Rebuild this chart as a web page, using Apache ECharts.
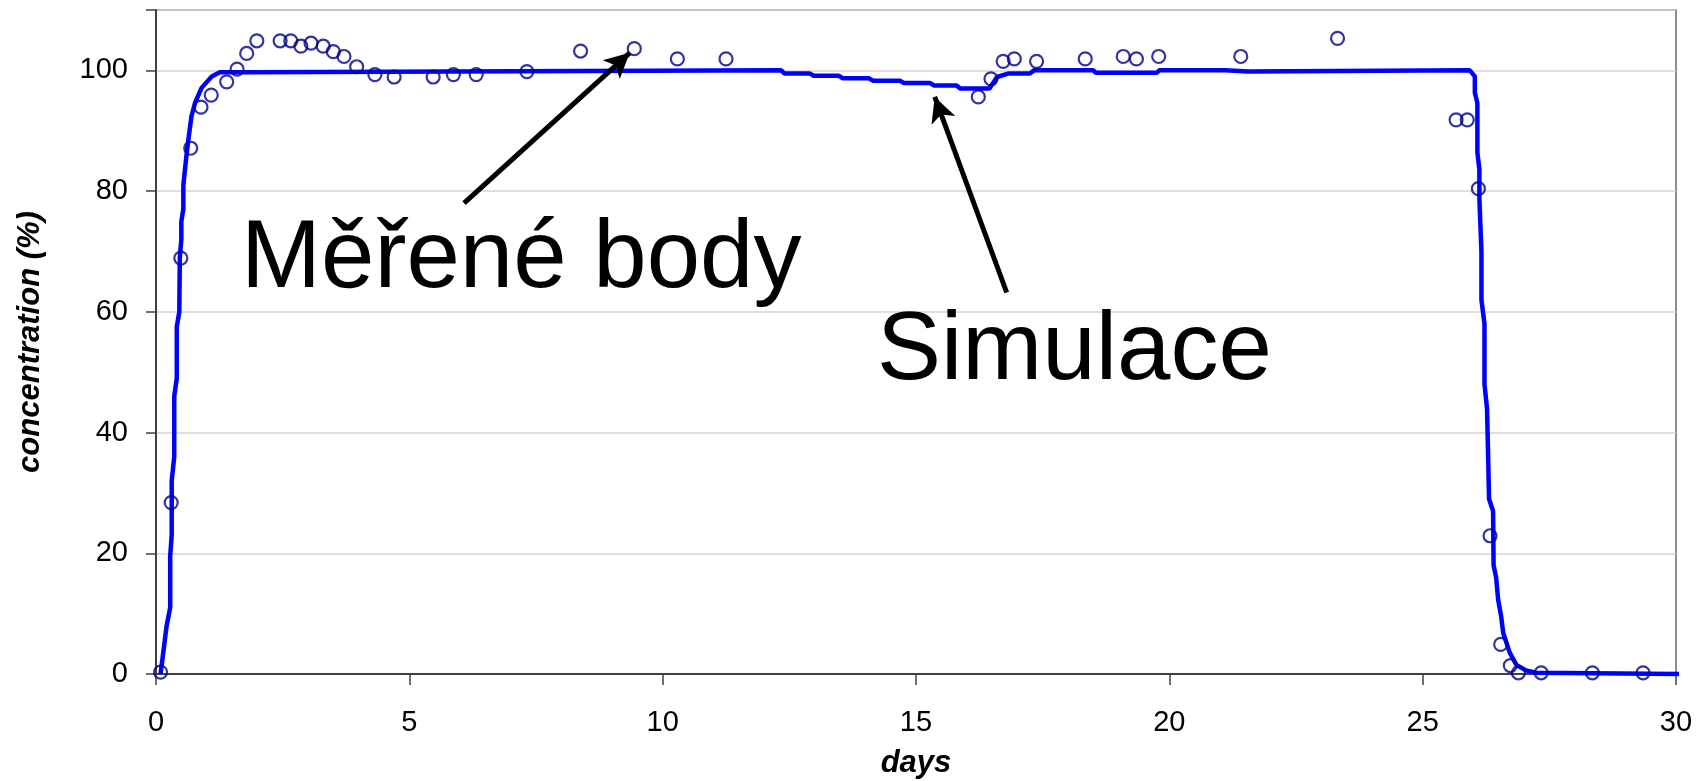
<!DOCTYPE html>
<html>
<head>
<meta charset="utf-8">
<script src="https://cdn.jsdelivr.net/npm/echarts@6/dist/echarts.min.js"></script>
<style>
html,body{margin:0;padding:0;background:#fff;}
#c{width:1700px;height:781px;}
</style>
</head>
<body>
<div id="c"></div>
<script>
// Simulation curve (days, concentration %)
const simX = [0.09,0.15,0.21,0.28,0.28,0.31,0.31,0.36,0.36,0.41,0.41,0.46,0.47,0.50,0.50,0.54,0.54,0.60,0.64,0.70,0.77,0.90,1.10,1.26,1.92,1.95,
  12.34,12.40,12.90,12.98,13.48,13.55,14.07,14.15,14.68,14.76,15.28,15.35,15.80,15.87,16.45,16.60,16.83,17.25,17.33,
  18.50,18.55,19.75,19.80,21.10,21.12,21.55,21.57,25.93,26.03,26.03,26.08,26.08,26.12,26.12,26.16,26.16,26.22,26.22,26.27,26.29,26.31,26.39,26.40,26.45,26.49,26.55,26.59,26.72,26.85,27.04,27.24,30.18];
const simY = [0,4,8,11,19.5,23,32,36,46,49,57.5,60,69,72,75,77,81,85.8,88.6,92.4,94.6,97.1,99.0,99.7,99.7,100,
  100,99.5,99.5,99.1,99.1,98.7,98.7,98.3,98.3,97.9,97.9,97.5,97.5,97.0,97.0,98.9,99.5,99.5,100,
  100,99.6,99.6,100,100,99.8,99.8,100,100,99,96.3,94.6,86.4,83.6,78.6,70,62,58,48,44,37,29,27,18,16,12.3,9.5,6.8,3.5,1.5,0.6,0.2,0];

// Measured points
const obsX = [0.09,0.30,0.49,0.685,0.888,1.09,1.395,1.60,1.79,1.99,2.45,2.66,2.86,3.06,3.30,3.50,3.71,3.96,4.32,4.70,5.47,5.87,6.32,7.32,8.38,9.44,10.29,11.25,
  16.23,16.48,16.72,16.94,17.38,18.34,19.09,19.35,19.79,21.41,23.32,25.66,25.88,26.10,26.33,26.54,26.73,26.89,27.34,28.35,29.35];
const obsY = [0.3,28.4,68.9,87.1,93.9,95.9,98.1,100.2,102.8,104.9,104.9,104.9,104.0,104.5,104.0,103.1,102.3,100.6,99.3,98.9,98.9,99.3,99.3,99.8,103.2,103.6,101.9,101.9,
  95.6,98.6,101.5,101.9,101.5,101.9,102.3,101.9,102.3,102.3,105.3,91.8,91.8,80.4,22.9,4.9,1.4,0.2,0.2,0.2,0.2];

// Annotations (data coordinates)
const labelTexts = ['Měřené body', 'Simulace'];
const labelAt = [[1.68, 68.5], [14.23, 53.3]];
const arrowFrom = [[6.08, 78.0], [16.79, 63.2]];
const arrowTo = [[9.35, 102.9], [15.37, 95.6]];

const xTicks = {min: 0, max: 30, interval: 5};
const yTicks = {min: 0, max: 110, interval: 20};

const FONT = '"Liberation Sans", Arial, sans-serif';
const chart = echarts.init(document.getElementById('c'), null, {renderer: 'canvas'});

const simData = simX.map((x, i) => [x, simY[i]]);
const obsData = obsX.map((x, i) => [x, obsY[i]]);

chart.setOption({
  animation: false,
  backgroundColor: '#ffffff',
  grid: {left: 156, right: 24, top: 10, bottom: 107, show: true, borderColor: '#8c8c8c', borderWidth: 2,
    backgroundColor: 'transparent', containLabel: false, outerBoundsMode: 'none'},
  xAxis: {
    type: 'value', min: xTicks.min, max: xTicks.max, interval: xTicks.interval,
    name: 'days', nameLocation: 'middle', nameGap: 74,
    nameTextStyle: {fontFamily: FONT, fontSize: 31, fontWeight: 'bold', fontStyle: 'italic', color: '#000'},
    axisLine: {show: true, onZero: false, lineStyle: {color: '#404040', width: 2}},
    axisTick: {show: true, inside: false, length: 11, lineStyle: {color: '#404040', width: 1.5}},
    axisLabel: {fontFamily: FONT, fontSize: 29, color: '#000', margin: 34},
    splitLine: {show: false}
  },
  yAxis: {
    type: 'value', min: yTicks.min, max: yTicks.max, interval: yTicks.interval,
    name: 'concentration (%)', nameLocation: 'middle', nameGap: 110,
    nameTextStyle: {fontFamily: FONT, fontSize: 31, fontWeight: 'bold', fontStyle: 'italic', color: '#000'},
    axisLine: {show: true, lineStyle: {color: '#404040', width: 2}},
    axisTick: {show: true, inside: false, length: 10, lineStyle: {color: '#404040', width: 1.5}},
    axisLabel: {fontFamily: FONT, fontSize: 29, color: '#000', margin: 28,
      formatter: v => (v > 100 ? '' : String(v))},
    splitLine: {show: true, lineStyle: {color: '#d4d4d4', width: 1.5}}
  },
  series: [
    {
      name: 'Simulace', type: 'line', data: simData, showSymbol: false, clip: false,
      lineStyle: {color: '#0000ff', width: 4.5}, z: 2,
      markLine: {
        silent: true, symbol: ['none', 'arrow'], symbolSize: [19, 25], precision: 4,
        lineStyle: {color: '#000', width: 5, type: 'solid'},
        label: {show: false},
        data: arrowFrom.map((f, i) => [{coord: f}, {coord: arrowTo[i]}])
      },
      markPoint: {
        silent: true, symbol: 'circle', symbolSize: 0,
        label: {show: true, position: 'right', distance: 0, fontFamily: FONT, fontSize: 96, color: '#000',
          align: 'left', verticalAlign: 'middle', formatter: p => p.name},
        data: labelTexts.map((t, i) => ({name: t, coord: labelAt[i]}))
      }
    },
    {
      name: 'Měřené body', type: 'scatter', data: obsData, symbol: 'circle', symbolSize: 13, clip: false,
      itemStyle: {color: 'rgba(0,0,0,0)', borderColor: '#00008b', borderWidth: 2.2}, z: 3
    }
  ]
});
</script>
</body>
</html>
